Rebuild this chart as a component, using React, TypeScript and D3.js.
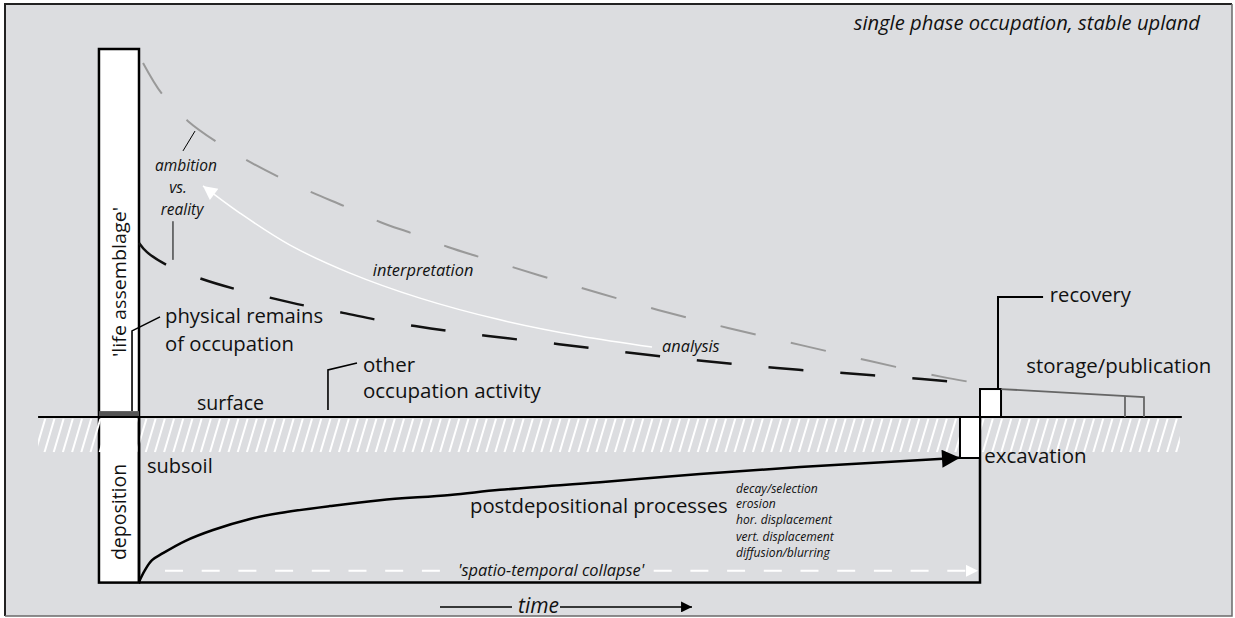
import React from 'react';
import * as d3 from 'd3';

// Site formation diagram: single phase occupation, stable upland
// time runs left to right (0 = deposition, 100 = excavation),
// level is height relative to the ground surface (0 = surface)

const W = 1235, H = 618;
const FONT = "'Open Sans', 'Noto Sans', sans-serif";
const BG = '#dcdde0';

const timeDomain = [0, 100];
const levelDomain = [-45, 100];

// grey dashed curve from the life assemblage ('ambition')
const ambitionCurve: [number, number][] = [
  [0.48, 96.2], [2.73, 87.8], [5.83, 80.4], [9.27, 74.7], [12.96, 69.6], [16.65, 65.2],
  [20.69, 60.9], [24.61, 57.1], [28.66, 53.0], [32.7, 49.7], [36.74, 46.2], [40.9, 43.2],
  [51.25, 36.0], [61.71, 29.1], [70.04, 24.2], [78.6, 19.6], [86.92, 15.2], [95.48, 10.9], [99.64, 9.2],
];

// black dashed curve of the physical remains ('reality')
const realityCurve: [number, number][] = [
  [0, 47.3], [0.95, 44.8], [3.33, 41.3], [7.49, 37.5], [11.41, 34.8], [15.81, 32.3], [19.86, 30.2],
  [24.26, 28.3], [28.3, 26.4], [32.82, 24.7], [36.74, 23.4], [41.5, 22.0], [49.94, 19.8],
  [58.62, 17.4], [67.18, 15.2], [75.86, 13.3], [84.54, 11.8], [93.1, 10.3], [100, 9.0],
];

// white arrow, from analysis back to the ambition
const interpretationCurve: [number, number][] = [
  [61.0, 19.0], [52.44, 22.0], [42.93, 26.4], [33.41, 32.3], [25.09, 39.1], [17.96, 46.7], [12.0, 55.4], [7.61, 62.8],
];

// postdepositional processes arrow, deposition to excavation
const postdepCurve: [number, number][] = [
  [0, -44.8], [0.71, -41.6], [1.55, -38.9], [2.85, -37.0], [5.47, -33.7], [8.8, -30.7], [13.2, -27.7],
  [16.77, -26.1], [22.71, -24.2], [28.66, -22.6], [36.98, -21.2], [42.93, -19.8], [54.82, -17.7],
  [66.71, -15.5], [78.6, -13.6], [90.49, -12.0], [97.62, -11.1],
];

// 'spatio-temporal collapse' dashed white line, broken for its label
const collapseSegments: [number, number][][] = [
  [[3.09, -41.8], [36.4, -41.8]],
  [[61.2, -41.8], [99.76, -41.8]],
];

const processList = ['decay/selection', 'erosion', 'hor. displacement', 'vert. displacement', 'diffusion/blurring'];
const processLevels = [-20.65, -24.7, -29.1, -33.7, -38.0];

// boxes: [t0, t1, v0, v1]
const columnBox = [-4.76, 0, -45, 100];
const occupationBar = [-4.76, 0, 0, 1.6];
const excavationBox = [97.62, 100, -11.14, 0];
const recoveryBox = [100, 102.5, 0, 7.6];
const storageLine: [number, number][] = [[102.5, 7.6], [119.5, 5.4], [119.5, 0]];
const storageSide: [number, number][] = [[117.24, 5.7], [117.24, 0]];
const surfaceExtent = [-12.0, 124.0];
const hatchLevels = [-0.4, -9.6];
const trenchOutline: [number, number][] = [[0, -45], [100, -45], [100, 0]];

const leaders: { pts: [number, number][]; w: number }[] = [
  { pts: [[-0.83, 1.6], [-0.83, 23.4], [2.5, 27.2]], w: 1.6 },
  { pts: [[22.47, 1.9], [22.47, 12.8], [25.92, 14.7]], w: 1.6 },
  { pts: [[5.23, 72.3], [6.66, 77.7]], w: 1 },
  { pts: [[4.04, 53.2], [4.04, 42.7]], w: 1 },
  { pts: [[102.14, 7.6], [102.14, 32.6], [107.5, 32.6]], w: 2 },
];

type Label = { text: string; t: number; v: number; size: number; italic?: boolean; anchor?: string };
const labels: Label[] = [
  { text: 'surface', t: 6.9, v: 1.9, size: 19.5 },
  { text: 'other', t: 26.63, v: 12.2, size: 20.5 },
  { text: 'occupation activity', t: 26.63, v: 5.2, size: 20.5 },
  { text: 'physical remains', t: 3.09, v: 25.5, size: 20.3 },
  { text: 'of occupation', t: 3.09, v: 17.9, size: 20.3 },
  { text: 'subsoil', t: 0.95, v: -15.2, size: 20 },
  { text: 'excavation', t: 100.5, v: -12.5, size: 20.5 },
  { text: 'recovery', t: 108.3, v: 31.25, size: 20.2 },
  { text: 'storage/publication', t: 105.5, v: 12.0, size: 20.4 },
  { text: 'postdepositional processes', t: 39.36, v: -26.1, size: 20.3 },
  { text: 'interpretation', t: 27.8, v: 38.3, size: 16.4, italic: true },
  { text: 'analysis', t: 62.2, v: 17.7, size: 16.3, italic: true },
  { text: 'ambition', t: 5.59, v: 66.8, size: 15.5, italic: true, anchor: 'middle' },
  { text: 'vs.', t: 4.64, v: 60.8, size: 15.5, italic: true, anchor: 'middle' },
  { text: 'reality', t: 5.11, v: 54.8, size: 15.5, italic: true, anchor: 'middle' },
  { text: "'spatio-temporal collapse'", t: 37.93, v: -43.2, size: 16.4, italic: true },
  { text: 'time', t: 45.07, v: -53.3, size: 21, italic: true },
];

const timeArrow: [number, number][][] = [
  [[35.79, -51.6], [44.35, -51.6]],
  [[50.06, -51.6], [65.76, -51.6]],
];

export default function App() {
  const x = d3.scaleLinear().domain(timeDomain).range([139, 980]);
  const y = d3.scaleLinear().domain(levelDomain).range([582.6, 49]);

  const smooth = d3.line<[number, number]>().x(d => x(d[0])).y(d => y(d[1])).curve(d3.curveCatmullRom.alpha(0.5));
  const straight = d3.line<[number, number]>().x(d => x(d[0])).y(d => y(d[1]));

  const rectOf = (b: number[]) => ({
    x: x(b[0]), y: y(b[3]), width: x(b[1]) - x(b[0]), height: y(b[2]) - y(b[3]),
  });

  // hatching under the surface
  const hx0 = x(surfaceExtent[0]), hx1 = x(surfaceExtent[1]) - 2;
  const hy0 = y(hatchLevels[0]), hy1 = y(hatchLevels[1]);
  const hatch = d3.range(hx0 - 12, hx1 + 12, 9.2);

  const arrowMarker = (id: string, fill: string, len: number, wid: number) => (
    <marker id={id} viewBox="0 0 10 10" refX={10} refY={5} markerUnits="userSpaceOnUse"
      markerWidth={len} markerHeight={wid} orient="auto">
      <path d="M0,0L10,5L0,10z" fill={fill} />
    </marker>
  );

  return (
    <svg width={W} height={H} style={{ position: 'fixed', left: 0, top: 0, background: '#fff' }} fontFamily={FONT}>
      <defs>
        {arrowMarker('arrBlack', '#000', 22, 18)}
        {arrowMarker('arrWhite', '#fff', 18, 14)}
        {arrowMarker('arrWhiteSm', '#fff', 23, 12)}
        {arrowMarker('arrTime', '#000', 23, 11)}
        <clipPath id="hatchClip">
          <rect x={hx0} y={hy0} width={hx1 - hx0} height={hy1 - hy0} />
        </clipPath>
      </defs>

      {/* frame: dark top/left, lighter bottom/right */}
      <rect x={5} y={4} width={1227} height={612} fill={BG} />
      <path d="M5,616V4H1232" fill="none" stroke="#222" strokeWidth={2} />
      <path d="M1232,4V616H5" fill="none" stroke="#6a6a6a" strokeWidth={1.5} />

      <text x={1200} y={29.5} textAnchor="end" fontSize={20.2} fontStyle="italic" fill="#111">
        single phase occupation, stable upland
      </text>

      {/* life assemblage column */}
      <rect {...rectOf(columnBox)} fill="#fff" stroke="#000" strokeWidth={2.5} />
      <rect {...rectOf(occupationBar)} fill="#555" />

      {/* subsoil hatching */}
      <g clipPath="url(#hatchClip)">
        {hatch.map(h => (
          <line key={h} x1={h} y1={hy1} x2={h + 10} y2={hy0} stroke="#fff" strokeWidth={2} />
        ))}
      </g>

      <line x1={x(surfaceExtent[0])} x2={x(surfaceExtent[1])} y1={y(0)} y2={y(0)} stroke="#000" strokeWidth={2} />
      <path d={straight(trenchOutline) || ''} fill="none" stroke="#000" strokeWidth={2.5} />
      <line x1={x(0)} x2={x(0)} y1={y(0)} y2={y(-45)} stroke="#000" strokeWidth={2.5} />

      <rect {...rectOf(excavationBox)} fill="#fff" stroke="#000" strokeWidth={2} />
      <rect {...rectOf(recoveryBox)} fill="#fff" stroke="#000" strokeWidth={2} />
      <path d={straight(storageLine) || ''} fill="none" stroke="#666" strokeWidth={1.8} />
      <path d={straight(storageSide) || ''} fill="none" stroke="#666" strokeWidth={1.8} />

      {/* ambition vs reality */}
      <path d={smooth(ambitionCurve) || ''} fill="none" stroke="#999" strokeWidth={2} strokeDasharray="36 36" />
      <path d={smooth(realityCurve) || ''} fill="none" stroke="#111" strokeWidth={2.5} strokeDasharray="35 37" />
      <path d={smooth(interpretationCurve) || ''} fill="none" stroke="#fff" strokeWidth={1.5} markerEnd="url(#arrWhite)" />

      {/* postdepositional processes */}
      <path d={smooth(postdepCurve) || ''} fill="none" stroke="#000" strokeWidth={2.5} markerEnd="url(#arrBlack)" />
      {collapseSegments.map((s, i) => (
        <path key={i} d={straight(s) || ''} fill="none" stroke="#fff" strokeWidth={2} strokeDasharray="18 18.7"
          markerEnd={i === collapseSegments.length - 1 ? 'url(#arrWhiteSm)' : undefined} />
      ))}

      {timeArrow.map((s, i) => (
        <path key={i} d={straight(s) || ''} fill="none" stroke="#000" strokeWidth={1.5}
          markerEnd={i === timeArrow.length - 1 ? 'url(#arrTime)' : undefined} />
      ))}

      {leaders.map((l, i) => (
        <path key={i} d={straight(l.pts) || ''} fill="none" stroke="#000" strokeWidth={l.w} />
      ))}

      {labels.map(l => (
        <text key={l.text} x={x(l.t)} y={y(l.v)} fontSize={l.size} fontStyle={l.italic ? 'italic' : 'normal'}
          textAnchor={l.anchor || 'start'} fill="#111">{l.text}</text>
      ))}

      {processList.map((p, i) => (
        <text key={p} x={x(70.99)} y={y(processLevels[i])} fontSize={12.1} fontStyle="italic" fill="#111">{p}</text>
      ))}

      {/* rotated column labels */}
      <text transform={`translate(${x(-2.38)},${y(36.7)}) rotate(-90)`} textAnchor="middle" dominantBaseline="central"
        fontSize={18.5} textLength={150} lengthAdjust="spacingAndGlyphs" fill="#111">'life assemblage'</text>
      <text transform={`translate(${x(-2.38)},${y(-25.8)}) rotate(-90)`} textAnchor="middle" dominantBaseline="central"
        fontSize={19.5} fill="#111">deposition</text>
    </svg>
  );
}
